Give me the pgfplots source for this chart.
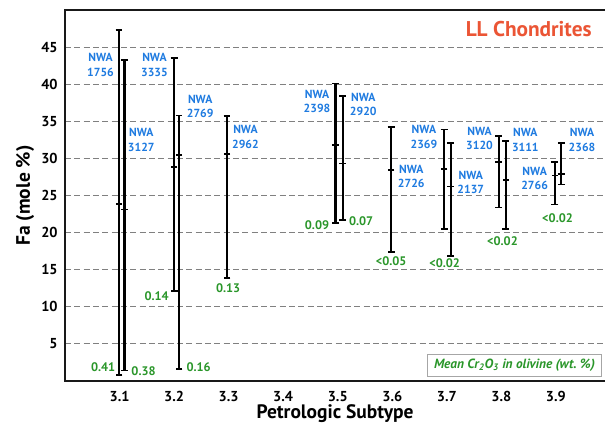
\documentclass[border=0pt]{standalone}
\usepackage{pgfplots}
\pgfplotsset{compat=1.18}
\usepackage{fontspec}
\setmainfont{PT Sans}
\definecolor{nwablue}{HTML}{1F7BE0}
\definecolor{crgreen}{HTML}{2A962A}
\definecolor{titlered}{HTML}{EB5535}
\begin{document}
\begin{tikzpicture}[
  nwa/.style={text=nwablue, font=\fontsize{8.8}{10.8}\selectfont\bfseries, align=center, inner sep=0pt},
  gr/.style={text=crgreen, font=\fontsize{9.3}{11}\selectfont\bfseries, inner sep=0pt, anchor=center}]
\begin{axis}[
  scale only axis, width=405pt, height=278.25pt,
  xmin=3.0, xmax=3.99, ymin=0, ymax=50,
  xtick={3.1,3.2,3.3,3.4,3.5,3.6,3.7,3.8,3.9},
  xticklabels={3.1,3.2,3.3,3.4,3.5,3.6,3.7,3.8,3.9},
  ytick={5,10,15,20,25,30,35,40,45},
  major tick length=0pt,
  axis line style={draw=none},
  ymajorgrids,
  major grid style={black!50, line width=0.7pt, dash pattern=on 4.5pt off 2.5pt},
  tick label style={font=\fontsize{10.8}{12}\selectfont\bfseries},
  yticklabel style={xshift=-2pt},
  xticklabel style={yshift=-4pt},
  /pgf/number format/assume math mode=true,
  xlabel={Petrologic Subtype}, ylabel={Fa (mole \%)},
  label style={font=\fontsize{14.6}{16}\selectfont\bfseries},
  x label style={at={(axis description cs:0.5,-0.088)}, anchor=center},
  y label style={at={(axis description cs:-0.074,0.5)}, anchor=center},
  clip=false,
]
\addplot[black, only marks, mark=-, mark size=2.4pt, mark options={line width=1.3pt},
  error bars/.cd, y dir=both, y explicit,
  error mark=-,
  error bar style={line width=1.6pt, black},
  error mark options={rotate=90, line width=1.3pt, mark size=2.6pt, black}]
coordinates {
  (3.099,23.9) += (0,23.4) -= (0,23.1)
  (3.109,23.1) += (0,20.2) -= (0,21.7)
  (3.200,28.8) += (0,14.7) -= (0,16.7)
  (3.209,30.5) += (0,5.3)  -= (0,28.9)
  (3.297,30.6) += (0,5.1)  -= (0,16.7)
  (3.496,31.8) += (0,8.3)  -= (0,10.5)
  (3.509,29.3) += (0,9.1)  -= (0,7.6)
  (3.598,28.4) += (0,5.8)  -= (0,11.0)
  (3.695,28.6) += (0,5.3)  -= (0,8.1)
  (3.707,26.2) += (0,5.9)  -= (0,9.4)
  (3.795,29.5) += (0,3.5)  -= (0,6.1)
  (3.808,27.1) += (0,5.2)  -= (0,6.6)
  (3.898,27.7) += (0,1.8)  -= (0,3.9)
  (3.910,27.9) += (0,4.2)  -= (0,1.4)
};
% frame
\draw[line width=1pt, black!90] (rel axis cs:1,1) -- (rel axis cs:0,1) -- (rel axis cs:0,0) -- (rel axis cs:1,0);
% NWA labels
\node[nwa, anchor=east] at (axis cs:3.090,42.6) {NWA\\1756};
\node[nwa, anchor=west] at (axis cs:3.115,32.5) {NWA\\3127};
\node[nwa] at (axis cs:3.164,42.6) {NWA\\3335};
\node[nwa, anchor=west] at (axis cs:3.223,37.0) {NWA\\2769};
\node[nwa, anchor=west] at (axis cs:3.306,32.9) {NWA\\2962};
\node[nwa] at (axis cs:3.462,37.7) {NWA\\2398};
\node[nwa, anchor=west] at (axis cs:3.522,37.3) {NWA\\2920};
\node[nwa, anchor=west] at (axis cs:3.610,27.6) {NWA\\2726};
\node[nwa] at (axis cs:3.658,32.9) {NWA\\2369};
\node[nwa, anchor=west] at (axis cs:3.719,26.8) {NWA\\2137};
\node[nwa] at (axis cs:3.760,32.7) {NWA\\3120};
\node[nwa, anchor=west] at (axis cs:3.819,32.5) {NWA\\3111};
\node[nwa] at (axis cs:3.861,27.3) {NWA\\2766};
\node[nwa, anchor=west] at (axis cs:3.923,32.5) {NWA\\2368};
% Cr2O3 labels
\node[gr] at (axis cs:3.070,1.8) {0.41};
\node[gr] at (axis cs:3.144,1.35) {0.38};
\node[gr] at (axis cs:3.168,11.4) {0.14};
\node[gr] at (axis cs:3.245,1.8) {0.16};
\node[gr] at (axis cs:3.299,12.5) {0.13};
\node[gr] at (axis cs:3.462,21.0) {0.09};
\node[gr] at (axis cs:3.543,21.6) {0.07};
\node[gr] at (axis cs:3.598,16.2) {<0.05};
\node[gr] at (axis cs:3.696,15.9) {<0.02};
\node[gr] at (axis cs:3.802,18.8) {<0.02};
\node[gr] at (axis cs:3.903,21.9) {<0.02};
% legend box
\node[draw=black!35, line width=0.6pt, text=crgreen, font=\fontsize{10}{12}\selectfont\bfseries\itshape,
  inner xsep=3pt, inner ysep=3pt, minimum width=130pt, minimum height=17pt]
  at (axis cs:3.824,2.1) {Mean Cr\textsubscript{2}O\textsubscript{3} in olivine (wt.~\%)};
% title
\node[text=titlered, font=\fontsize{16}{19}\selectfont\bfseries, anchor=base east, inner sep=0pt]
  at (axis cs:3.966,46.4) {LL Chondrites};
\coordinate (ll) at (rel axis cs:0,0);
\end{axis}
\pgfresetboundingbox
\path[use as bounding box] ([shift={(-48.75pt,-36.75pt)}]ll) rectangle ++(453.75pt,322.5pt);
\end{tikzpicture}
\end{document}
